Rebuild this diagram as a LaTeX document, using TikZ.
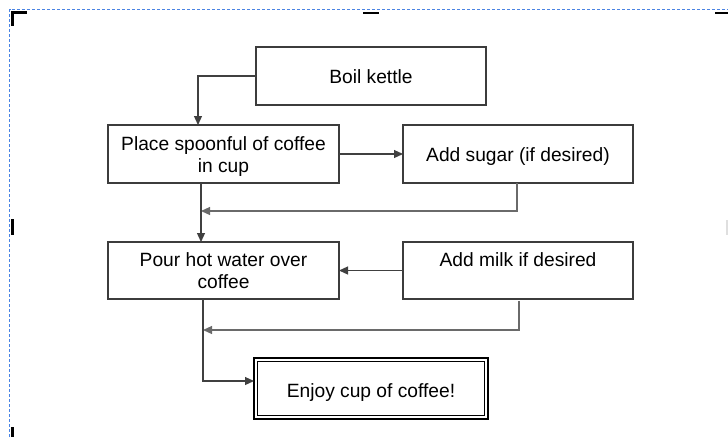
\documentclass[tikz,border=0pt]{standalone}
\usepackage{fontspec}
\setmainfont{Liberation Sans}
\usetikzlibrary{arrows.meta,calc}
\definecolor{boxline}{HTML}{3C3C3C}
\definecolor{conline}{HTML}{404040}
\definecolor{retline}{HTML}{6A6A6A}
\definecolor{dashblue}{HTML}{4A84E4}
\newcommand\boxtext[2][-3pt]{\raisebox{#1}[\height][\depth]{\begin{tabular}{@{}c@{}}#2\end{tabular}}}
\tikzset{
  stepbox/.style={draw=boxline, line width=1.2pt, outer sep=0pt, inner sep=0pt,
    minimum width=231pt, minimum height=58pt,
    font=\fontsize{19.2}{22}\selectfont},
  endbox/.style={stepbox, draw=black, line width=2pt, minimum width=234pt, minimum height=61pt},
  arr/.style={draw=conline, line width=1.2pt, -{Triangle[length=9pt,width=8pt]}},
  retarr/.style={arr, draw=retline},
}
\begin{document}
\begin{tikzpicture}[x=1pt,y=-1pt]
\useasboundingbox (0,0) rectangle (728,437);
% page frame and corner marks
\draw[dashblue, line width=1.2pt, dash pattern=on 3pt off 2pt] (9.5,437) -- (9.5,9.5) -- (728,9.5);
\fill[black] (11,11) rectangle (27,13.5);
\fill[black] (11,11) rectangle (13.5,26);
\fill[black] (363,11.7) rectangle (379,14);
\fill[black] (715,11.5) rectangle (728,14);
\fill[black] (11,219) rectangle (14,235);
\fill[black] (11,427) rectangle (14,437);
\fill[gray!25] (726,220) rectangle (728,235);
% nodes
\node[stepbox, minimum width=230pt] (boil) at (371,76) {\boxtext{Boil kettle}};
\node[stepbox] (place) at (223.5,154) {\boxtext{Place spoonful of coffee\\in cup}};
\node[stepbox, minimum width=230pt] (sugar) at (518,154) {\boxtext{Add sugar (if desired)}};
\node[stepbox, minimum height=57pt] (pour) at (223.5,270.5) {\boxtext{Pour hot water over\\coffee}};
\node[stepbox, minimum width=230pt, minimum height=57pt] (milk) at (518,270.5) {\boxtext{Add milk if desired\\\mbox{}}};
\node[endbox] (enjoy) at (371,388.5) {\boxtext[-5pt]{Enjoy cup of coffee!}};
\draw[line width=1pt] ($(enjoy.north west)+(3.5,3.5)$) rectangle ($(enjoy.south east)+(-3.5,-3.5)$);
% helper coordinates
\coordinate (k) at (198,0);
\coordinate (v1) at (201,211);
\coordinate (v2) at (203,330);
% connectors
\draw[arr] (boil.west) -| (k |- place.north);
\draw[arr] (place.east) -- (sugar.west);
\draw[retarr] ($(sugar.south)+(-1,0)$) |- (v1);
\draw[arr] (v1 |- place.south) -- (v1 |- pour.north);
\draw[arr] (milk.west) -- (pour.east);
\draw[retarr] ($(milk.south)+(1,2)$) |- (v2);
\draw[arr] (v2 |- pour.south) |- ($(enjoy.west)+(0,-7.5)$);
\end{tikzpicture}
\end{document}
